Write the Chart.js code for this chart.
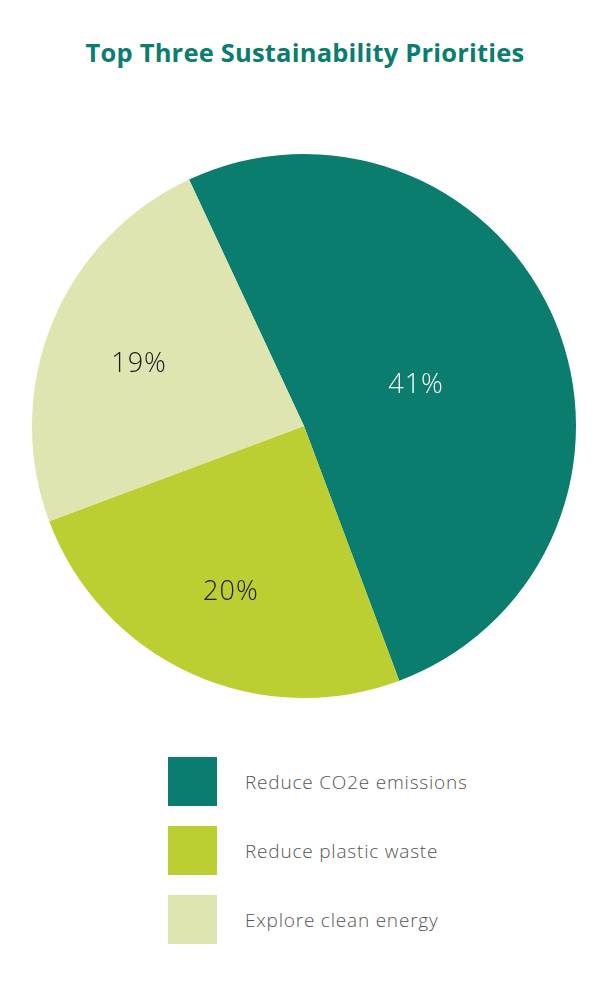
<!DOCTYPE html>
<html>
<head>
<meta charset="utf-8">
<script src="https://cdn.jsdelivr.net/npm/chart.js@4"></script>
<style>
  html, body { margin: 0; padding: 0; background: #fff; }
  body { width: 610px; height: 1002px; position: relative; overflow: hidden; font-family: "Open Sans", sans-serif; }
  #title { position: absolute; top: 35px; left: 0; width: 610px; text-align: center; color: #0b7d6f; font-size: 25.5px; font-weight: 700; letter-spacing: 0.2px; }
  #pieBox { position: absolute; left: 32px; top: 154px; width: 544px; height: 544px; }
  #legend { position: absolute; left: 168px; top: 757px; }
  .item { display: flex; align-items: center; height: 49px; margin-bottom: 20px; }
  .swatch { width: 49px; height: 49px; margin-right: 28px; }
  .label { font-size: 19px; font-weight: 300; color: #555; letter-spacing: 0.8px; }
</style>
</head>
<body>
<div id="title">Top Three Sustainability Priorities</div>
<div id="pieBox"><canvas id="pie"></canvas></div>
<div id="legend"></div>
<script>
// categories and values
const categories = ['Reduce CO2e emissions', 'Reduce plastic waste', 'Explore clean energy'];
const values = [41, 20, 19];
const sliceColors = ['#0b7d6f', '#bccf32', '#dfe5b0'];
const labelColors = ['#ffffff', '#1a1a1a', '#1a1a1a'];

// legend built from the same arrays
const legend = document.getElementById('legend');
categories.forEach((name, i) => {
  const item = document.createElement('div');
  item.className = 'item';
  item.innerHTML = `<div class="swatch" style="background:${sliceColors[i]}"></div><div class="label">${name}</div>`;
  legend.appendChild(item);
});

// percent labels near the centroid of each slice
const sliceLabels = {
  id: 'sliceLabels',
  afterDatasetsDraw(chart) {
    const ctx = chart.ctx;
    const meta = chart.getDatasetMeta(0);
    ctx.save();
    ctx.font = '300 27px "Open Sans", sans-serif';
    ctx.textAlign = 'center';
    ctx.textBaseline = 'middle';
    if ('letterSpacing' in ctx) ctx.letterSpacing = '1px';
    meta.data.forEach((arc, i) => {
      const p = arc.getProps(['x', 'y', 'startAngle', 'endAngle', 'outerRadius'], true);
      const theta = p.endAngle - p.startAngle;
      const mid = p.startAngle + theta / 2;
      const d = 4 * p.outerRadius * Math.sin(theta / 2) / (3 * theta) * 1.08;
      ctx.fillStyle = labelColors[i];
      ctx.fillText(values[i] + '%', p.x + Math.cos(mid) * d, p.y + Math.sin(mid) * d + 6);
    });
    ctx.restore();
  }
};

new Chart(document.getElementById('pie'), {
  type: 'pie',
  data: {
    labels: categories,
    datasets: [{
      data: values,
      backgroundColor: sliceColors,
      borderWidth: 0
    }]
  },
  options: {
    responsive: true,
    maintainAspectRatio: false,
    animation: false,
    rotation: -25,
    layout: { padding: 0 },
    plugins: {
      legend: { display: false },
      tooltip: { enabled: false }
    }
  },
  plugins: [sliceLabels]
});
</script>
</body>
</html>
